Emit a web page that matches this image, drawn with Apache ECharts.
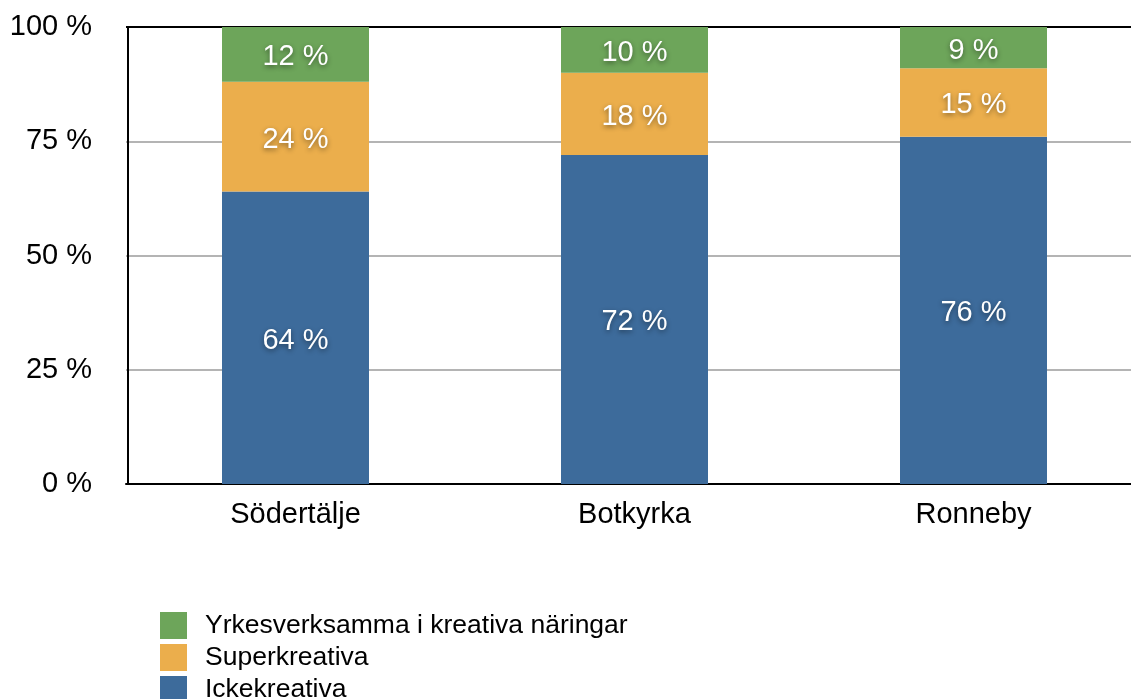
<!DOCTYPE html>
<html>
<head>
<meta charset="utf-8">
<script src="https://cdn.jsdelivr.net/npm/echarts@6/dist/echarts.min.js"></script>
<style>
html,body{margin:0;padding:0;background:#fff;overflow:hidden;width:1131px;height:699px;}
#chart{width:1143px;height:699px;}
</style>
</head>
<body>
<div id="chart"></div>
<script>
const categories = ['Södertälje', 'Botkyrka', 'Ronneby'];
const ickekreativa = [64, 72, 76];
const superkreativa = [24, 18, 15];
const yrkesverksamma = [12, 10, 9];
const yTicks = [0, 25, 50, 75, 100];

const FONT = '"Liberation Sans", Arial, Helvetica, sans-serif';
const labelStyle = {
  show: true,
  position: 'inside',
  offset: [0, 3],
  color: '#fff',
  fontFamily: FONT,
  fontSize: 29,
  textShadowColor: 'rgba(0,0,0,0.45)',
  textShadowBlur: 5,
  textShadowOffsetY: 2,
  formatter: p => p.value + ' %'
};

const chart = echarts.init(document.getElementById('chart'));
chart.setOption({
  animation: false,
  grid: {
    left: 126, top: 27, bottom: 215, right: 0
  },
  legend: {
    orient: 'vertical',
    left: 160,
    top: 612,
    height: 150,
    padding: 0,
    itemWidth: 27,
    itemHeight: 27,
    itemGap: 5,
    icon: 'rect',
    data: ['Yrkesverksamma i kreativa näringar', 'Superkreativa', 'Ickekreativa'],
    textStyle: { fontFamily: FONT, fontSize: 26.5, color: '#000', padding: [0, 0, 0, 13] }
  },
  xAxis: {
    type: 'category',
    data: categories,
    axisLine: { lineStyle: { color: '#000', width: 2 } },
    axisTick: { show: false },
    axisLabel: { fontFamily: FONT, fontSize: 29, color: '#000', margin: 16 }
  },
  yAxis: {
    type: 'value',
    min: 0, max: 100, interval: 25,
    offset: -2,
    axisLine: { show: true, lineStyle: { color: '#000', width: 2 } },
    axisTick: { show: false },
    splitLine: { lineStyle: { color: ['#000', '#b4b4b4', '#b4b4b4', '#b4b4b4', '#000'], width: 2 } },
    axisLabel: {
      fontFamily: FONT, fontSize: 29, color: '#000', margin: 36,
      padding: [7, 0, 0, 0],
      formatter: v => yTicks.includes(v) ? v + ' %' : ''
    }
  },
  series: [
    { name: 'Ickekreativa', type: 'bar', stack: 's', data: ickekreativa, barWidth: 147,
      itemStyle: { color: '#3d6b9b' }, label: labelStyle },
    { name: 'Superkreativa', type: 'bar', stack: 's', data: superkreativa, barWidth: 147,
      itemStyle: { color: '#ebae4c' }, label: labelStyle },
    { name: 'Yrkesverksamma i kreativa näringar', type: 'bar', stack: 's', data: yrkesverksamma, barWidth: 147,
      itemStyle: { color: '#6da55a' }, label: labelStyle }
  ]
});
</script>
</body>
</html>
